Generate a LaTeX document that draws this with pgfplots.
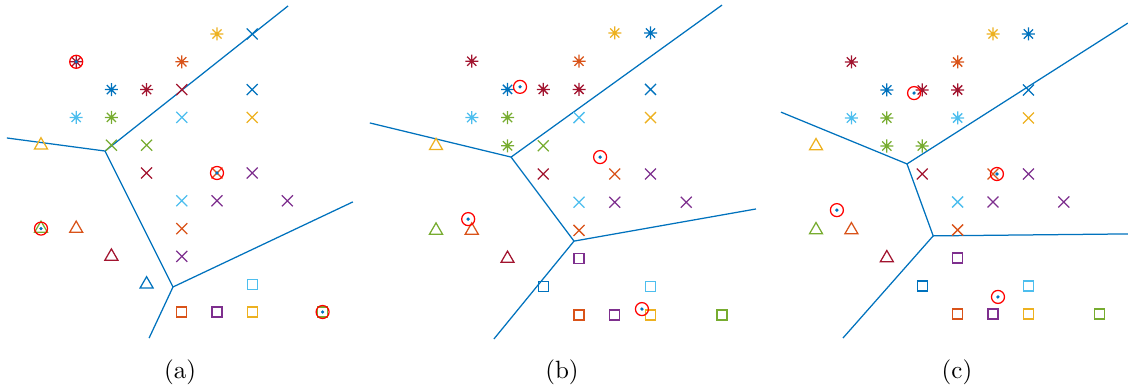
\documentclass[border=0pt]{standalone}
\usepackage{pgfplots}
\usepackage{pgfplotstable}
\pgfplotsset{compat=1.18}

\definecolor{mblue}{RGB}{0,114,189}
\definecolor{morange}{RGB}{217,83,25}
\definecolor{myellow}{RGB}{237,177,32}
\definecolor{mpurple}{RGB}{126,47,142}
\definecolor{mgreen}{RGB}{119,172,48}
\definecolor{mlblue}{RGB}{77,190,238}
\definecolor{mdred}{RGB}{162,20,47}

% eight-armed asterisk (plus and cross overlaid)
\pgfdeclareplotmark{ast}{%
  \pgfpathmoveto{\pgfqpoint{-\pgfplotmarksize}{0pt}}%
  \pgfpathlineto{\pgfqpoint{\pgfplotmarksize}{0pt}}%
  \pgfpathmoveto{\pgfqpoint{0pt}{-\pgfplotmarksize}}%
  \pgfpathlineto{\pgfqpoint{0pt}{\pgfplotmarksize}}%
  \pgfpathmoveto{\pgfqpoint{-.70710678\pgfplotmarksize}{-.70710678\pgfplotmarksize}}%
  \pgfpathlineto{\pgfqpoint{.70710678\pgfplotmarksize}{.70710678\pgfplotmarksize}}%
  \pgfpathmoveto{\pgfqpoint{-.70710678\pgfplotmarksize}{.70710678\pgfplotmarksize}}%
  \pgfpathlineto{\pgfqpoint{.70710678\pgfplotmarksize}{-.70710678\pgfplotmarksize}}%
  \pgfusepathqstroke}

\pgfplotstableread{
x y c
5 10 Ay
1 9 Ar
4 9 Ao
2 8 Ab
3 8 Ar
1 7 Ac
2 7 Ag
6 10 Xb
4 8 Xr
6 8 Xb
4 7 Xc
6 7 Xy
2 6 Xg
3 6 Xg
3 5 Xr
5 5 Xo
6 5 Xp
4 4 Xc
5 4 Xp
7 4 Xp
4 3 Xo
4 2 Xp
0 6 Ty
0 3 Tg
1 3 To
2 2 Tr
3 1 Tb
6 1 Sc
4 0 So
5 0 Sp
6 0 Sy
8 0 Sg
}\ptsA

\pgfplotstableread{
x y c
5 10 Ay
6 10 Ab
1 9 Ar
4 9 Ao
2 8 Ab
3 8 Ar
4 8 Ar
1 7 Ac
2 7 Ag
2 6 Ag
6 8 Xb
4 7 Xc
6 7 Xy
3 6 Xg
3 5 Xr
5 5 Xo
6 5 Xp
4 4 Xc
5 4 Xp
7 4 Xp
4 3 Xo
0 6 Ty
0 3 Tg
1 3 To
2 2 Tr
4 2 Sp
3 1 Sb
6 1 Sc
4 0 So
5 0 Sp
6 0 Sy
8 0 Sg
}\ptsB

\pgfplotstableread{
x y c
5 10 Ay
6 10 Ab
1 9 Ar
4 9 Ao
2 8 Ab
3 8 Ar
4 8 Ar
1 7 Ac
2 7 Ag
4 7 Ac
2 6 Ag
3 6 Ag
6 8 Xb
6 7 Xy
3 5 Xr
5 5 Xo
6 5 Xp
4 4 Xc
5 4 Xp
7 4 Xp
4 3 Xo
0 6 Ty
0 3 Tg
1 3 To
2 2 Tr
4 2 Sp
3 1 Sb
6 1 Sc
4 0 So
5 0 Sp
6 0 Sy
8 0 Sg
}\ptsC

\pgfplotsset{
  panel/.style={hide axis, clip=false, anchor=south west,
    xmin=-2, xmax=9, ymin=-1, ymax=11},
  pts/.style={scatter, only marks, scatter src=explicit symbolic,
    mark options={line width=0.5pt},
    scatter/classes={
      Ab={mark=ast,mark size=2.6pt,mblue},
      Ao={mark=ast,mark size=2.6pt,morange},
      Ay={mark=ast,mark size=2.6pt,myellow},
      Ap={mark=ast,mark size=2.6pt,mpurple},
      Ag={mark=ast,mark size=2.6pt,mgreen},
      Ac={mark=ast,mark size=2.6pt,mlblue},
      Ar={mark=ast,mark size=2.6pt,mdred},
      Xb={mark=x,mark size=3.1pt,mblue},
      Xo={mark=x,mark size=3.1pt,morange},
      Xy={mark=x,mark size=3.1pt,myellow},
      Xp={mark=x,mark size=3.1pt,mpurple},
      Xg={mark=x,mark size=3.1pt,mgreen},
      Xc={mark=x,mark size=3.1pt,mlblue},
      Xr={mark=x,mark size=3.1pt,mdred},
      Tb={mark=triangle,mark size=3pt,mblue},
      To={mark=triangle,mark size=3pt,morange},
      Ty={mark=triangle,mark size=3pt,myellow},
      Tp={mark=triangle,mark size=3pt,mpurple},
      Tg={mark=triangle,mark size=3pt,mgreen},
      Tc={mark=triangle,mark size=3pt,mlblue},
      Tr={mark=triangle,mark size=3pt,mdred},
      Sb={mark=square,mark size=2pt,mblue},
      So={mark=square,mark size=2pt,morange},
      Sy={mark=square,mark size=2pt,myellow},
      Sp={mark=square,mark size=2pt,mpurple},
      Sg={mark=square,mark size=2pt,mgreen},
      Sc={mark=square,mark size=2pt,mlblue},
      Sr={mark=square,mark size=2pt,mdred}}},
  ring/.style={only marks, mark=o, mark size=2.6pt, red, mark options={line width=0.5pt}},
  dot/.style={only marks, mark=*, mark size=0.45pt, mblue},
  bnd/.style={mblue, line width=0.5pt, no markers},
}

\begin{document}
\begin{tikzpicture}
\useasboundingbox (0,0) rectangle (451.2pt,-154.8pt);

% (a)
\begin{axis}[panel, x=14.08pt, y=11.12pt, at={(-11.76pt,-135.92pt)}]
\addplot[bnd] coordinates {(-0.97,6.26) (1.82,5.79) (7.02,11.01)};
\addplot[bnd] coordinates {(1.82,5.79) (3.75,0.90)};
\addplot[bnd] coordinates {(3.07,-0.94) (3.75,0.90) (8.86,3.96)};
\addplot[pts] table[x=x, y=y, meta=c] {\ptsA};
\addplot[ring] coordinates {(1,9) (5,5) (0,3) (8,0)};
\addplot[dot] coordinates {(1,9) (5,5) (0,3) (8,0)};
\end{axis}

% (b)
\begin{axis}[panel, x=14.3pt, y=11.28pt, at={(145.8pt,-137.28pt)}]
\addplot[bnd] coordinates {(-1.85,6.81) (2.10,5.60) (8.00,10.99)};
\addplot[bnd] coordinates {(2.10,5.60) (3.86,2.62)};
\addplot[bnd] coordinates {(1.62,-0.85) (3.86,2.62) (8.95,3.76)};
\addplot[pts] table[x=x, y=y, meta=c] {\ptsB};
\addplot[ring] coordinates {(2.35,8.09) (4.59,5.60) (0.90,3.40) (5.76,0.21)};
\addplot[dot] coordinates {(2.35,8.09) (4.59,5.60) (0.90,3.40) (5.76,0.21)};
\end{axis}

% (c)
\begin{axis}[panel, x=14.16pt, y=11.2pt, at={(298.08pt,-136.8pt)}]
\addplot[bnd] coordinates {(-0.99,7.21) (2.57,5.36) (8.81,10.39)};
\addplot[bnd] coordinates {(2.57,5.36) (3.31,2.79)};
\addplot[bnd] coordinates {(0.76,-0.86) (3.31,2.79) (8.81,2.86)};
\addplot[pts] table[x=x, y=y, meta=c] {\ptsC};
\addplot[ring] coordinates {(2.77,7.89) (5.11,5.00) (0.59,3.71) (5.14,0.61)};
\addplot[dot] coordinates {(2.77,7.89) (5.11,5.00) (0.59,3.71) (5.14,0.61)};
\end{axis}

\node[anchor=base] at (72pt,-151.2pt) {(a)};
\node[anchor=base] at (224.8pt,-151.2pt) {(b)};
\node[anchor=base] at (382.8pt,-151.2pt) {(c)};
\end{tikzpicture}
\end{document}
